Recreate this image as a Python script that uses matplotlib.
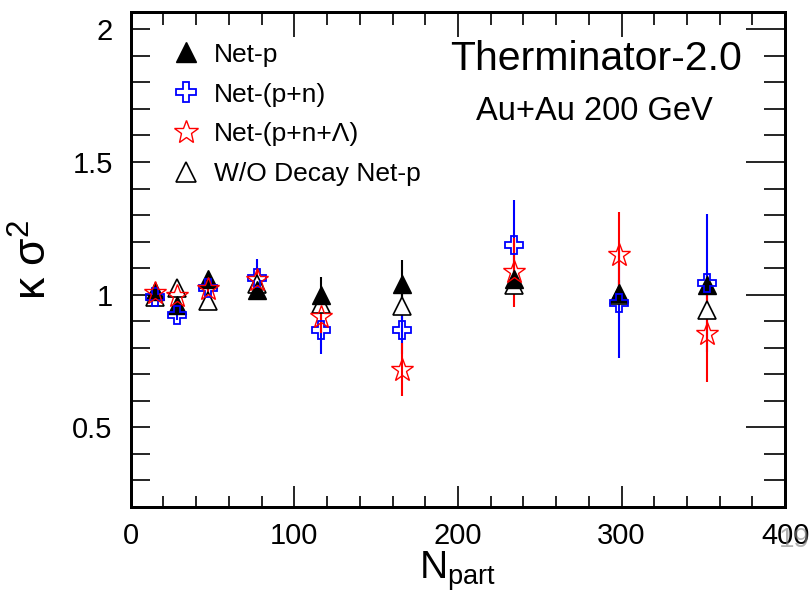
import numpy as np
import matplotlib
matplotlib.use("Agg")
import matplotlib.pyplot as plt
from matplotlib.lines import Line2D
from matplotlib.ticker import MultipleLocator

plt.rcParams['font.family'] = ['Liberation Sans', 'DejaVu Sans']
plt.rcParams['mathtext.fontset'] = 'custom'
plt.rcParams['mathtext.rm'] = 'Liberation Sans'
plt.rcParams['mathtext.it'] = 'Liberation Sans:italic'

# N_part centres
npart = [15, 28, 47.5, 77, 116, 166, 234.5, 298.5, 352]

# kappa sigma^2 values
netp = [1.015, 0.962, 1.058, 1.018, 0.998, 1.040, 1.058, 1.007, 1.038]
netp_err = [0.02, 0.02, 0.02, 0.025, 0.07, 0.09, 0.03, 0.05, 0.04]

netpn = [0.99, 0.925, 1.025, 1.063, 0.868, 0.868, 1.188, 0.97, 1.045]
netpn_err = [0.02, 0.02, 0.03, 0.07, 0.09, 0.09, 0.17, 0.21, 0.26]

netpnl = [1.006, 0.994, 1.02, 1.056, 0.914, 0.718, 1.085, 1.15, 0.85]
netpnl_err = [0.02, 0.02, 0.03, 0.04, 0.06, 0.10, 0.13, 0.16, 0.18]

wo_decay = [0.99, 1.025, 0.975, 1.04, 0.966, 0.959, 1.038, 1.0, 0.944]
wo_decay_err = [0.02, 0.02, 0.02, 0.02, 0.02, 0.05, 0.02, 0.02, 0.02]

labels = ['Net-p', 'Net-(p+n)', 'Net-(p+n+Λ)', 'W/O Decay Net-p']

XLIM = (0, 400)
YLIM = (0.2, 2.065)

fig = plt.figure(figsize=(8.12, 6.0), dpi=100)
ax = fig.add_axes([0.161, 0.155, 0.806, 0.825])

ax.errorbar(npart, wo_decay, yerr=wo_decay_err, fmt='^', ms=13, mfc='white',
            mec='black', mew=1.2, ecolor='black', elinewidth=1.5, capsize=0)
ax.errorbar(npart, netp, yerr=netp_err, fmt='^', ms=13, mfc='black',
            mec='black', ecolor='black', elinewidth=1.5, capsize=0)
ax.errorbar(npart, netpn, yerr=netpn_err, fmt='P', ms=13, mfc='none',
            mec='blue', mew=1.3, ecolor='blue', elinewidth=1.5, capsize=0)
ax.errorbar(npart, netpnl, yerr=netpnl_err, fmt='*', ms=17, mfc='none',
            mec='red', mew=1.0, ecolor='red', elinewidth=1.5, capsize=0)

ax.set_xlim(*XLIM)
ax.set_ylim(*YLIM)
ax.xaxis.set_major_locator(MultipleLocator(100))
ax.xaxis.set_minor_locator(MultipleLocator(20))
ax.set_yticks([0.5, 1, 1.5, 2])
ax.set_yticklabels(['0.5', '1', '1.5', '2'])
ax.yaxis.set_minor_locator(MultipleLocator(0.1))

# bottom / left ticks
ax.tick_params(axis='x', which='major', direction='in', length=15, width=1.2,
               top=False, labelsize=21, pad=11)
ax.tick_params(axis='x', which='minor', direction='in', length=8, width=1.2, top=False)
ax.tick_params(axis='y', which='both', direction='in', length=14, width=1.2,
               right=False, labelsize=21, pad=13)

# right ticks (longer majors, like the ROOT frame)
axr = ax.twinx()
axr.set_ylim(*YLIM)
axr.yaxis.set_major_locator(MultipleLocator(0.5))
axr.yaxis.set_minor_locator(MultipleLocator(0.1))
axr.tick_params(axis='y', which='major', direction='in', length=28, width=1.2, labelright=False)
axr.tick_params(axis='y', which='minor', direction='in', length=15, width=1.2)

# top ticks
axt = ax.twiny()
axt.set_xlim(*XLIM)
axt.xaxis.set_major_locator(MultipleLocator(100))
axt.xaxis.set_minor_locator(MultipleLocator(20))
axt.tick_params(axis='x', which='major', direction='in', length=18, width=1.2, labeltop=False)
axt.tick_params(axis='x', which='minor', direction='in', length=9, width=1.2)

for a in (ax, axr, axt):
    for sp in a.spines.values():
        sp.set_linewidth(2)

ax.set_xlabel(r'$\mathrm{N_{part}}$', fontsize=28, labelpad=0)
ax.xaxis.set_label_coords(0.5, -0.085)
ax.set_ylabel('κ σ$^{2}$', fontsize=32)
ax.yaxis.set_label_coords(-0.115, 0.5)

handles = [
    Line2D([], [], ls='none', marker='^', ms=14, mfc='black', mec='black'),
    Line2D([], [], ls='none', marker='P', ms=14, mfc='none', mec='blue', mew=1.3),
    Line2D([], [], ls='none', marker='*', ms=18, mfc='none', mec='red', mew=1.0),
    Line2D([], [], ls='none', marker='^', ms=14, mfc='white', mec='black', mew=1.2),
]
leg = ax.legend(handles, labels, loc='upper left', bbox_to_anchor=(0.03, 0.97),
                frameon=False, fontsize=19, labelspacing=0.6, handletextpad=0.3,
                handlelength=1.5, borderaxespad=0.2)

ax.text(0.711, 0.906, 'Therminator-2.0', transform=ax.transAxes, fontsize=29.5,
        ha='center', va='center')
ax.text(0.708, 0.8, 'Au+Au 200 GeV', transform=ax.transAxes, fontsize=23.5,
        ha='center', va='center')

fig.text(0.978, 0.1, '19', color='grey', alpha=0.6, fontsize=20, ha='center', va='center')

fig.savefig('out.png', dpi=100)
